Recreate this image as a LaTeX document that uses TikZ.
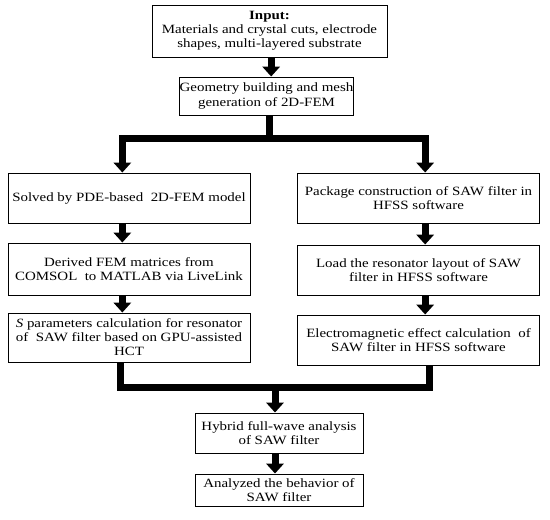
\documentclass[tikz,border=0pt]{standalone}
\usepackage{fontspec}
\setmainfont{Liberation Serif}[FakeStretch=1.18]
\usetikzlibrary{arrows.meta,positioning,calc}

\begin{document}
\begin{tikzpicture}[x=0.3mm,y=-0.3mm,
  every node/.style={font=\fontsize{10.8}{12}\selectfont},
  box/.style={draw,line width=0.8pt,align=center,inner sep=0pt,minimum width=72.6mm,minimum height=15mm},
  bar/.style={line width=2.1mm},
  flow/.style={line width=2.1mm,-{Triangle[length=3mm,width=5.2mm]}}]
  \useasboundingbox (0,0) rectangle (550,519);
  % top of the chart
  \node[box,minimum width=70.5mm,minimum height=15.6mm] (input) at (269.5,31)
    {\textbf{Input:}\\Materials and crystal cuts, electrode\\shapes, multi-layered substrate};
  \node[box,minimum width=51.9mm,minimum height=11.4mm] (geom) at (266.5,96)
    {Geometry building and mesh\\generation of 2D-FEM};
  % left branch
  \node[box] (solved) at (129,198) {Solved by PDE-based\ \ 2D-FEM model};
  \node[box,minimum height=15.6mm] (derived) at (129,269)
    {Derived FEM matrices from\\COMSOL\ \ to MATLAB via LiveLink};
  \node[box,minimum height=14.7mm] (sparam) at (129,337.5)
    {\textit{S} parameters calculation for resonator\\of\ \ SAW filter based on GPU-assisted\\HCT};
  % right branch
  \node[box] (package) at (418.5,198) {Package construction of SAW filter in\\HFSS software};
  \node[box] (load) at (418.5,270) {Load the resonator layout of SAW\\filter in HFSS software};
  \node[box] (em) at (418.5,340) {Electromagnetic effect calculation\ \ of\\SAW filter in HFSS software};
  % bottom
  \node[box,minimum width=50.4mm,minimum height=12mm] (hybrid) at (279,433)
    {Hybrid full-wave analysis\\of SAW filter};
  \node[box,minimum width=50.4mm,minimum height=9.6mm] (analyzed) at (279,490)
    {Analyzed the behavior of\\SAW filter};

  \draw[flow] ([xshift=0.5mm]input.south) -- ([xshift=0.5mm]input.south |- geom.north);
  \path ([xshift=1mm]geom.south) ++(0,23.5) coordinate (split);
  \draw[bar] ([xshift=1mm]geom.south) -- (split);
  \draw[flow] (split) -| ([xshift=-2mm]solved.north);
  \draw[flow] (split) -| ([xshift=2mm]package.north);
  \draw[flow] ([xshift=-2mm]solved.south) -- ([xshift=-2mm]derived.north);
  \draw[flow] ([xshift=-2mm]derived.south) -- ([xshift=-2mm]sparam.north);
  \draw[flow] ([xshift=2mm]package.south) -- ([xshift=2mm]load.north);
  \draw[flow] ([xshift=2mm]load.south) -- ([xshift=2mm]em.north);
  \path ([xshift=-1.2mm]hybrid.north) ++(0,-25) coordinate (merge);
  \draw[bar] ([xshift=-2.7mm]sparam.south) |- (merge);
  \draw[bar] ([xshift=3.3mm]em.south) |- (merge);
  \draw[flow] (merge) -- ([xshift=-1.2mm]hybrid.north);
  \draw[flow] ([xshift=-1.2mm]hybrid.south) -- ([xshift=-1.2mm]analyzed.north);
\end{tikzpicture}
\end{document}
